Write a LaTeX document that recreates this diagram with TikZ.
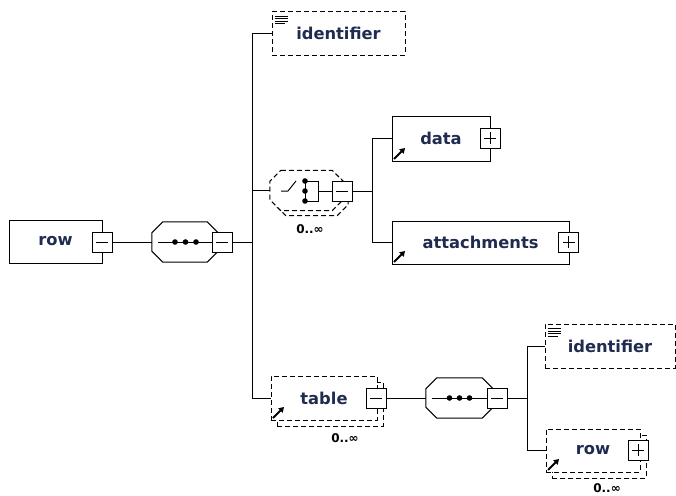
\documentclass[tikz,border=0pt]{standalone}
\usepackage{fontspec}
\setmainfont{DejaVu Sans}
\usetikzlibrary{shadows,arrows.meta}
\definecolor{nameink}{HTML}{1F2B4F}
\tikzset{
  wire/.style={line width=1pt},
  elem/.style={draw,fill=white,line width=1pt,inner sep=0pt,text=nameink,
               font=\bfseries\fontsize{16.3}{18}\selectfont},
  optional/.style={dash pattern=on 5pt off 3pt},
  many/.style={copy shadow={draw,fill=white,line width=1pt,
               dash pattern=on 5pt off 3pt,shadow xshift=6pt,shadow yshift=-6pt}},
  pmbox/.style={draw,fill=white,line width=1pt,minimum size=20pt,inner sep=0pt},
  minusbox/.style={pmbox,path picture={
      \draw[line width=1pt] ([xshift=4pt]path picture bounding box.west)
        -- ([xshift=-4pt]path picture bounding box.east);}},
  plusbox/.style={pmbox,path picture={
      \draw[line width=1pt] ([xshift=4pt]path picture bounding box.west)
        -- ([xshift=-4pt]path picture bounding box.east);
      \draw[line width=1pt] ([yshift=-4pt]path picture bounding box.north)
        -- ([yshift=4pt]path picture bounding box.south);}},
  compbox/.style={inner sep=0pt,minimum height=40pt},
  refarrow/.style={line width=1.8pt,-{Triangle[length=5pt,width=6pt]}},
  occurs/.style={inner sep=0pt,font=\bfseries\fontsize{12}{13}\selectfont},
}
% octagon round a compositor box: node, chamfer
\newcommand{\octpath}[2]{([xshift=#2]#1.north west) -- ([xshift=-#2]#1.north east)
  -- ([yshift=-#2]#1.north east) -- ([yshift=#2]#1.south east)
  -- ([xshift=-#2]#1.south east) -- ([xshift=#2]#1.south west)
  -- ([yshift=#2]#1.south west) -- ([yshift=-#2]#1.north west) -- cycle}
\begin{document}
\begin{tikzpicture}[x=1pt,y=-1pt]
  \useasboundingbox (0,0) rectangle (676,495);

  % root element and its sequence
  \node[elem,minimum width=93pt,minimum height=43pt] (row) at (55.5,241.5) {row};
  \node[minusbox] (rowpm) at (102,242) {};
  \node[compbox,minimum width=66pt] (seq) at (185,242) {};
  \draw[wire,fill=white] \octpath{seq}{11pt};
  \node[minusbox] (seqpm) at (222,242) {};
  \draw[wire] (seq.west) ++(6pt,0) -- (seqpm.west);
  \foreach \x in {175,185.5,196} \fill (\x,242) circle (2.8pt);
  \draw[wire] (rowpm.east) -- (seq.west);
  \draw[wire] (seqpm.east) -- ++(20pt,0) coordinate (bus1);

  % children of the sequence
  \node[elem,optional,minimum width=133pt,minimum height=43pt] (ident) at (338.5,33.5) {identifier};
  \node[compbox,minimum width=73pt] (choicesh) at (311.5,195.5) {};
  \node[compbox,minimum width=73pt] (choice) at (306.5,190.5) {};
  \draw[wire,optional,fill=white] \octpath{choicesh}{11pt};
  \draw[wire,optional,fill=white] \octpath{choice}{11pt};
  \node[minusbox] (choicepm) at (342,191) {};
  \node[elem,optional,many,minimum width=106pt,minimum height=44pt] (table) at (324,398) {table};
  \node[minusbox] (tablepm) at (376,398) {};
  \node[occurs] at (310,229) {0..∞};
  \node[occurs] at (345,438) {0..∞};
  \draw[wire] (bus1) |- (ident.west);
  \draw[wire] (bus1) |- (choice.west);
  \draw[wire] (bus1) |- (table.west);

  % choice symbol
  \draw[wire] (281,191) -- (288,191) -- (296,181);
  \draw[wire] (305,181) -- (305,201);
  \foreach \y in {181,191,201} \fill (305,\y) circle (2.8pt);
  \draw[wire] (305,181) -- (318,181) -- (318,201) -- (305,201);
  \draw[wire] (318,191) -- (choicepm.west);

  % data / attachments
  \draw[wire] (choicepm.east) -- ++(20pt,0) coordinate (bus2);
  \node[elem,minimum width=98pt,minimum height=45pt] (data) at (441,138.5) {data};
  \node[plusbox] (datapm) at (490,138) {};
  \node[elem,minimum width=177pt,minimum height=43pt] (attach) at (480.5,242.5) {attachments};
  \node[plusbox] (attachpm) at (568.5,242) {};
  \draw[wire] (bus2) |- (data.west);
  \draw[wire] (bus2) |- (attach.west);

  % table content
  \node[compbox,minimum width=67pt] (tseq) at (459.5,398) {};
  \draw[wire,fill=white] \octpath{tseq}{11pt};
  \node[minusbox] (tseqpm) at (497,398) {};
  \draw[wire] (tseq.west) ++(6pt,0) -- (tseqpm.west);
  \foreach \x in {449.5,459.5,469.5} \fill (\x,398) circle (2.8pt);
  \draw[wire] (tablepm.east) -- (tseq.west);
  \draw[wire] (tseqpm.east) -- ++(20pt,0) coordinate (bus3);
  \node[elem,optional,minimum width=130pt,minimum height=44pt] (ident2) at (610,346) {identifier};
  \node[elem,optional,many,minimum width=94pt,minimum height=43pt] (row2) at (593,450.5) {row};
  \node[plusbox] (row2pm) at (638,450) {};
  \node[occurs] at (607,488) {0..∞};
  \draw[wire] (bus3) |- (ident2.west);
  \draw[wire] (bus3) |- (row2.west);

  % marks in the corners
  \foreach \n in {data,attach,table,row2}
    \draw[refarrow] ([shift={(2.5pt,2.5pt)}]\n.south west) -- ++(11pt,11pt);
  \foreach \n in {ident,ident2}
    \foreach \d/\l in {5/13,7.5/13,10/13,12.5/10}
      \draw[line width=1pt] ([shift={(3pt,-\d pt)}]\n.north west) -- ++(\l pt,0);
\end{tikzpicture}
\end{document}
